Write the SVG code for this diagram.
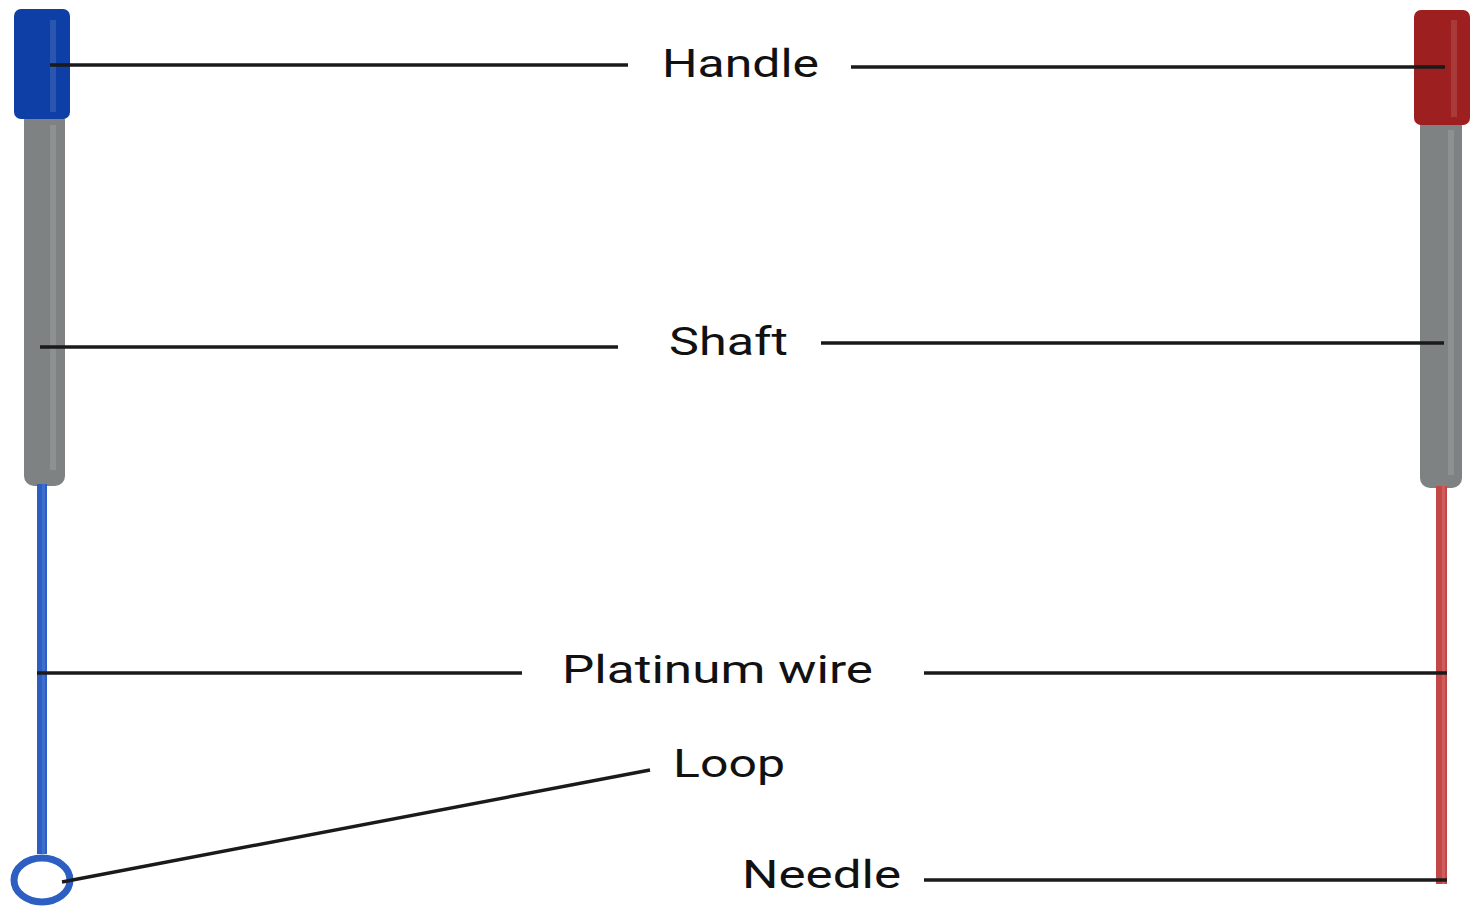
<svg xmlns="http://www.w3.org/2000/svg" width="1473" height="907" viewBox="0 0 1473 907">
  <style>
    .lbl { font-family: Roboto, "Liberation Sans", sans-serif; font-size: 39px; fill: #111; }
    .lead { stroke: #1a1a1a; stroke-width: 3.5; fill: none; stroke-linecap: butt; }
    .shaft { fill: #7e8283; }
    .shine { fill: #ffffff; opacity: 0.12; }
  </style>
  <rect width="1473" height="907" fill="#ffffff"/>

  <!-- Left loop: blue handle, shaft, wire and loop -->
  <g id="loop-tool">
    <rect x="24" y="110" width="41" height="376" rx="10" class="shaft"/>
    <rect x="50" y="125" width="6" height="345" class="shine"/>
    <rect x="37" y="484" width="10" height="370" fill="#2d5fc2"/>
    <rect x="42" y="484" width="3" height="370" fill="#4a7ad6" opacity="0.6"/>
    <ellipse cx="42" cy="880" rx="28" ry="22" fill="none" stroke="#2d5fc2" stroke-width="7"/>
    <rect x="14" y="9" width="56" height="110" rx="7" fill="#0d3fa6"/>
    <rect x="50" y="20" width="6" height="92" class="shine"/>
  </g>

  <!-- Right needle: red handle, shaft and wire -->
  <g id="needle-tool">
    <rect x="1420" y="115" width="42" height="373" rx="10" class="shaft"/>
    <rect x="1448" y="130" width="6" height="345" class="shine"/>
    <rect x="1436" y="486" width="11" height="398" fill="#c24848"/>
    <rect x="1442" y="486" width="3" height="398" fill="#d86a6a" opacity="0.6"/>
    <rect x="1414" y="10" width="56" height="115" rx="7" fill="#9e1f1f"/>
    <rect x="1451" y="20" width="6" height="97" class="shine"/>
  </g>

  <!-- Leader lines -->
  <g id="connectors">
    <line class="lead" x1="50" y1="65" x2="628" y2="65"/>
    <line class="lead" x1="851" y1="67" x2="1445" y2="67"/>
    <line class="lead" x1="40" y1="347" x2="618" y2="347"/>
    <line class="lead" x1="821" y1="343" x2="1444" y2="343"/>
    <line class="lead" x1="37" y1="673" x2="522" y2="673"/>
    <line class="lead" x1="924" y1="673" x2="1447" y2="673"/>
    <line class="lead" x1="62" y1="882" x2="650" y2="770"/>
    <line class="lead" x1="924" y1="880" x2="1447" y2="880"/>
  </g>

  <!-- Labels -->
  <g id="label-handle"><text class="lbl" x="662" y="77" textLength="157" lengthAdjust="spacingAndGlyphs">Handle</text></g>
  <g id="label-shaft"><text class="lbl" x="669" y="355" textLength="119" lengthAdjust="spacingAndGlyphs">Shaft</text></g>
  <g id="label-platinum-wire"><text class="lbl" x="562" y="683" textLength="311" lengthAdjust="spacingAndGlyphs">Platinum wire</text></g>
  <g id="label-loop"><text class="lbl" x="673" y="777" textLength="112" lengthAdjust="spacingAndGlyphs">Loop</text></g>
  <g id="label-needle"><text class="lbl" x="742" y="888" textLength="159" lengthAdjust="spacingAndGlyphs">Needle</text></g>
</svg>
